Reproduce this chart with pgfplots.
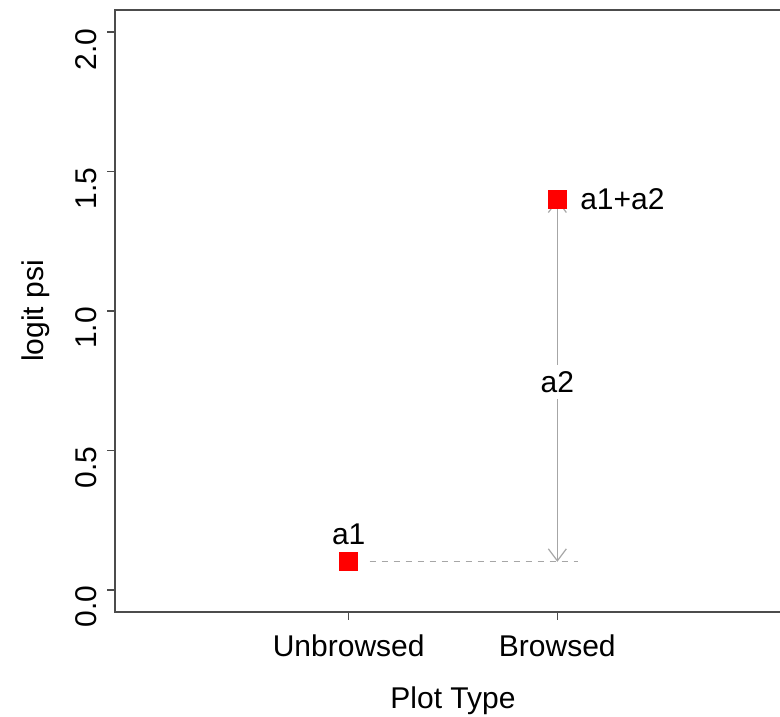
\documentclass[border=0pt]{standalone}
\usepackage{pgfplots}
\pgfplotsset{compat=1.18}
\usepackage{fontspec}
\setmainfont{Liberation Sans}
\usetikzlibrary{arrows.meta}
\begin{document}
\fontsize{15}{17}\selectfont
\begin{tikzpicture}
\begin{axis}[
  scale only axis,
  width=338pt, height=301pt,
  xmin=-0.12, xmax=3.12,
  ymin=-0.08, ymax=2.08,
  clip=false,
  axis line style={black!70, line width=0.8pt},
  xtick={1,2}, xticklabels={Unbrowsed,Browsed},
  ytick={0,0.5,1,1.5,2},
  xtick pos=lower, ytick pos=left,
  tick align=outside,
  major tick length=3.8pt,
  tick style={black!70, line width=0.8pt},
  yticklabel style={rotate=90, anchor=south, xshift=-8.5pt},
  xticklabel style={yshift=-2.5pt},
  /pgf/number format/.cd, fixed, fixed zerofill, precision=1, assume math mode=true,
  /pgfplots/.cd,
  xlabel={Plot Type},
  ylabel={logit psi},
  xlabel style={yshift=-4.5pt},
  ylabel style={yshift=3pt},
]
\addplot[only marks, mark=square*, mark size=4.5pt, color=red] coordinates {(1,0.1) (2,1.4)};
\draw[gray!70, dashed, line width=0.6pt] (axis cs:1.1,0.1) -- (axis cs:2.1,0.1);
\draw[gray!70, line width=0.6pt, {Straight Barb[length=6pt,width=9pt]}-{Straight Barb[length=6pt,width=9pt]}] (axis cs:2,0.1) -- (axis cs:2,1.4);
\node[fill=white, inner sep=3pt] at (axis cs:2,0.745) {a2};
\node[anchor=south] at (axis cs:1,0.125) {a1};
\node[anchor=west] at (axis cs:2.06,1.4) {a1+a2};
\coordinate (O) at (rel axis cs:0,0);
\end{axis}
\pgfresetboundingbox
\useasboundingbox ([xshift=-57.5pt, yshift=-52pt]O) rectangle ++(390pt,358pt);
\end{tikzpicture}
\end{document}
